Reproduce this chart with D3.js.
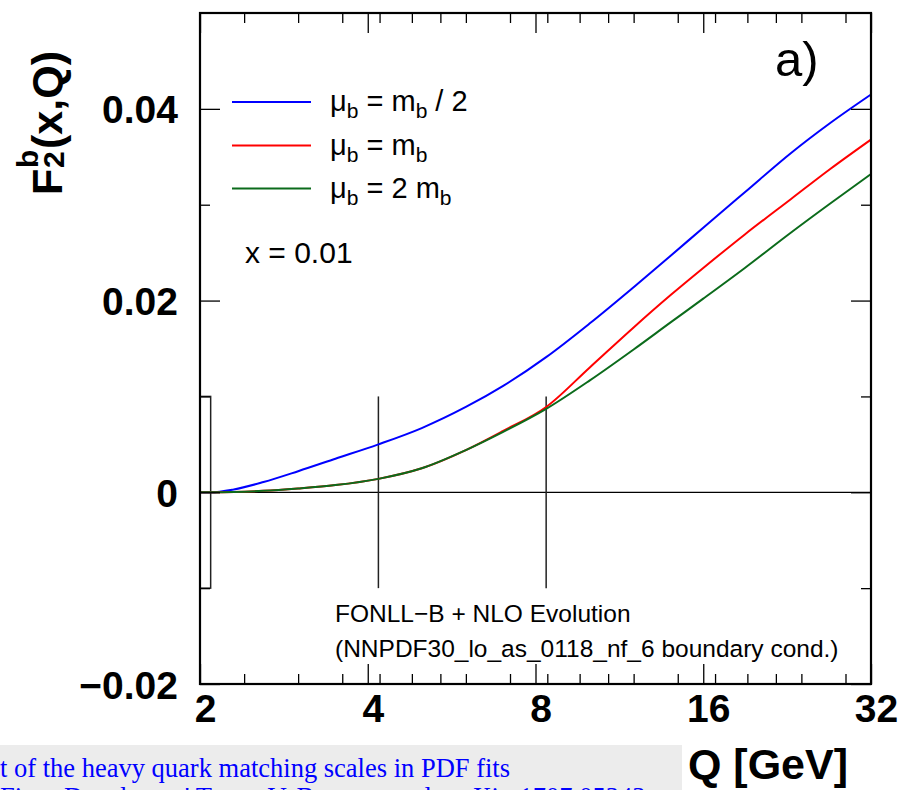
<!DOCTYPE html>
<html><head><meta charset="utf-8">
<script src="https://cdn.jsdelivr.net/npm/d3@7"></script>
<style>body{margin:0;background:#fff}svg{display:block}</style>
</head><body><svg id="c" width="902" height="790"></svg>
<script>
// ---------------- data ----------------
const Q        = [2, 2.09, 2.3, 2.6, 3.0, 3.5, 4.18, 5.0, 6.0, 7.0, 8.36, 10, 12, 14, 16, 19, 23, 27, 32];
const F_half   = [0, 0, 0.0003, 0.00107, 0.0022, 0.0035, 0.0050, 0.0067, 0.0089, 0.0111, 0.0141, 0.0176, 0.0214, 0.0247, 0.0276, 0.0313, 0.0354, 0.0385, 0.0415];
const F_one    = [0, 0, 0.00003, 0.00015, 0.0004, 0.00075, 0.0014, 0.0025, 0.0044, 0.0064, 0.0089, 0.0130, 0.0172, 0.0206, 0.0234, 0.0269, 0.0306, 0.0337, 0.0368];
const F_two    = [0, 0, 0.00003, 0.00015, 0.0004, 0.00075, 0.0014, 0.0025, 0.0044, 0.0063, 0.0087, 0.01165, 0.0149, 0.01775, 0.0202, 0.0234, 0.0271, 0.0301, 0.0332];
const seriesColors = ["#0000ff", "#ff0000", "#0b6b1b"];
const xMajorTicks = [2, 4, 8, 16, 32];
const xMinorTicks = [2.4, 3.0, 3.6, 4.2, 4.8, 5.4, 6.0, 7.2, 8.4, 9.6, 10.8, 12.0, 14.4, 16.8, 19.2, 21.6, 24.0, 28.8];
const yMajorTicks = [-0.02, 0, 0.02, 0.04];
const yMinorTicks = [-0.01, 0.01, 0.03];
const matchingScales = [2.09, 4.18, 8.36];   // m_b/2, m_b, 2 m_b
const matchBand = [-0.01, 0.01];
const xDomain = [2, 32];
const yDomain = [-0.02, 0.05];

// ---------------- layout ----------------
const svg = d3.select("#c");
const L = 200, R = 871, T = 13, B = 684;
const x = d3.scaleLog().base(2).domain(xDomain).range([L, R]);
const y = d3.scaleLinear().domain(yDomain).range([B, T]);
const sans = "'Liberation Sans', Arial, Helvetica, sans-serif";
const serif = "'Liberation Serif', 'Times New Roman', serif";

// caption strip (web page artifact at the bottom)
svg.append("rect").attr("x", 0).attr("y", 745).attr("width", 682).attr("height", 45).attr("fill", "#ececec");
svg.append("text").attr("x", 0).attr("y", 777).attr("font-family", serif)
  .attr("font-size", 26.5).attr("fill", "#0000ff").text("t of the heavy quark matching scales in PDF fits");
svg.append("text").attr("x", 0).attr("y", 806).attr("font-family", serif)
  .attr("font-size", 26.5).attr("fill", "#0000ff").text("Fitter Developers' Team: V. Bertone et al., arXiv:1707.05343");

// zero line
svg.append("line").attr("x1", L).attr("x2", R).attr("y1", y(0)).attr("y2", y(0))
  .attr("stroke", "#000").attr("stroke-width", 1.3);

// matching scale markers
matchingScales.forEach((m, i) => {
  if (i === 0) {
    svg.append("rect").attr("x", x(xDomain[0])).attr("y", y(matchBand[1]))
      .attr("width", x(m) - x(xDomain[0])).attr("height", y(matchBand[0]) - y(matchBand[1]))
      .attr("fill", "none").attr("stroke", "#222").attr("stroke-width", 1.5);
  } else {
    svg.append("line").attr("x1", x(m)).attr("x2", x(m)).attr("y1", y(matchBand[1])).attr("y2", y(matchBand[0]))
      .attr("stroke", "#222").attr("stroke-width", 1.5);
  }
});

// curves
const line = d3.line().x(d => x(d[0])).y(d => y(d[1])).curve(d3.curveMonotoneX);
[F_half, F_one, F_two].forEach((vals, i) => {
  svg.append("path").datum(Q.map((q, j) => [q, vals[j]]))
    .attr("d", line).attr("fill", "none").attr("stroke", seriesColors[i]).attr("stroke-width", 2);
});

// axes (ticks inward, ROOT style)
function styleAxis(g) {
  g.select(".domain").remove();
  g.selectAll(".tick line").attr("stroke", "#000").attr("stroke-width", 1.3);
}
svg.append("g").attr("transform", `translate(0,${B})`)
  .call(d3.axisBottom(x).tickValues(xMajorTicks).tickSize(-20).tickSizeOuter(0).tickPadding(14).tickFormat(d3.format("d")))
  .call(styleAxis)
  .call(g => g.selectAll("text").attr("font-family", sans).attr("font-weight", "bold").attr("font-size", 39)
        .attr("fill", "#000").attr("dx", 5).attr("dy", "0.62em"));
svg.append("g").attr("transform", `translate(0,${B})`)
  .call(d3.axisBottom(x).tickValues(xMinorTicks).tickSize(-10).tickSizeOuter(0).tickFormat(""))
  .call(styleAxis);
svg.append("g").attr("transform", `translate(0,${T})`)
  .call(d3.axisTop(x).tickValues(xMajorTicks).tickSize(-20).tickSizeOuter(0).tickFormat(""))
  .call(styleAxis);
svg.append("g").attr("transform", `translate(0,${T})`)
  .call(d3.axisTop(x).tickValues(xMinorTicks).tickSize(-10).tickSizeOuter(0).tickFormat(""))
  .call(styleAxis);
svg.append("g").attr("transform", `translate(${L},0)`)
  .call(d3.axisLeft(y).tickValues(yMajorTicks).tickSize(-20).tickSizeOuter(0).tickPadding(22)
        .tickFormat(d => d === 0 ? "0" : d3.format(".2f")(d)))
  .call(styleAxis)
  .call(g => g.selectAll("text").attr("font-family", sans).attr("font-weight", "bold").attr("font-size", 39)
        .attr("fill", "#000").attr("dy", "0.36em"));
svg.append("g").attr("transform", `translate(${L},0)`)
  .call(d3.axisLeft(y).tickValues(yMinorTicks).tickSize(-10).tickSizeOuter(0).tickFormat(""))
  .call(styleAxis);
svg.append("g").attr("transform", `translate(${R},0)`)
  .call(d3.axisRight(y).tickValues(yMajorTicks).tickSize(-20).tickSizeOuter(0).tickFormat(""))
  .call(styleAxis);
svg.append("g").attr("transform", `translate(${R},0)`)
  .call(d3.axisRight(y).tickValues(yMinorTicks).tickSize(-10).tickSizeOuter(0).tickFormat(""))
  .call(styleAxis);

// frame
svg.append("rect").attr("x", L).attr("y", T).attr("width", R - L).attr("height", B - T)
  .attr("fill", "none").attr("stroke", "#000").attr("stroke-width", 2.2);

// axis titles
const yt = svg.append("g").attr("transform", "translate(62,195) rotate(-90)")
  .attr("font-family", sans).attr("font-weight", "bold").attr("fill", "#000");
yt.append("text").attr("x", 0).attr("y", 0).attr("font-size", 43).text("F");
yt.append("text").attr("x", 27).attr("y", -24).attr("font-size", 30).text("b");
yt.append("text").attr("x", 27).attr("y", 2).attr("font-size", 30).text("2");
yt.append("text").attr("x", 46).attr("y", 0).attr("font-size", 43).text("(x,Q)");

svg.append("text").attr("x", 848).attr("y", 779).attr("text-anchor", "end")
  .attr("font-family", sans).attr("font-weight", "bold").attr("font-size", 43).attr("fill", "#000").text("Q [GeV]");

// legend
const legendY = [102, 145.5, 188.5];
const legendParts = [
  [["μ", 0], ["b", 1], [" = m", 0], ["b", 1], [" / 2", 0]],
  [["μ", 0], ["b", 1], [" = m", 0], ["b", 1]],
  [["μ", 0], ["b", 1], [" = 2 m", 0], ["b", 1]]
];
legendY.forEach((ly, i) => {
  svg.append("line").attr("x1", 232).attr("x2", 311).attr("y1", ly).attr("y2", ly)
    .attr("stroke", seriesColors[i]).attr("stroke-width", 2);
  const t = svg.append("text").attr("x", 330).attr("y", ly + 9).attr("font-family", sans)
    .attr("font-size", 29).attr("fill", "#000");
  let prevSub = 0;
  legendParts[i].forEach(([s, sub]) => {
    const dy = sub && !prevSub ? 7 : (!sub && prevSub ? -7 : 0);
    t.append("tspan").attr("dy", dy).attr("font-size", sub ? 21 : 29).text(s);
    prevSub = sub;
  });
});

svg.append("text").attr("x", 245).attr("y", 263).attr("font-family", sans).attr("font-size", 30)
  .attr("fill", "#000").text("x = 0.01");
svg.append("text").attr("x", 775).attr("y", 76).attr("font-family", sans).attr("font-size", 49)
  .attr("fill", "#000").text("a)");

svg.append("text").attr("x", 335).attr("y", 622).attr("font-family", sans).attr("font-size", 24.5)
  .attr("fill", "#000").text("FONLL\u2212B + NLO Evolution");
svg.append("text").attr("x", 335).attr("y", 657).attr("font-family", sans).attr("font-size", 24.5)
  .attr("fill", "#000").text("(NNPDF30_lo_as_0118_nf_6 boundary cond.)");
</script></body></html>
